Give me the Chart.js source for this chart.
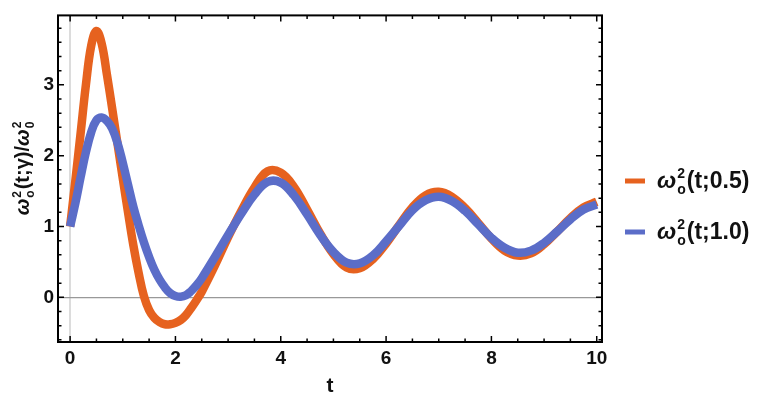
<!DOCTYPE html>
<html>
<head>
<meta charset="utf-8">
<script src="https://cdn.jsdelivr.net/npm/chart.js@4"></script>
<style>
html, body { margin: 0; padding: 0; background: #fff; }
</style>
</head>
<body>
<canvas id="plot" width="763" height="409"></canvas>
<script>
// time axis (shared by both curves)
const tValues = [0, 0.1, 0.2, 0.3, 0.4, 0.5, 0.6, 0.7, 0.8, 0.9, 1.0, 1.1, 1.2, 1.3, 1.4, 1.5, 1.6, 1.7, 1.8, 1.9, 2.0,
    2.1, 2.2, 2.3, 2.4, 2.5, 2.75, 3, 3.25, 3.5, 3.75, 4, 4.25, 4.5, 4.75, 5, 5.25, 5.5, 5.75, 6, 6.25, 6.5, 6.75,
    7, 7.25, 7.5, 7.75, 8, 8.25, 8.5, 8.75, 9, 9.25, 9.5, 9.75, 10];
// ω²(t;0.5)/ω0²
const gamma05 = [1.00, 1.65, 2.32, 3.00, 3.55, 3.76, 3.58, 3.14, 2.66, 2.17, 1.68, 1.20, 0.74, 0.35, 0.02, -0.18, -0.29,
    -0.35, -0.38, -0.38, -0.36, -0.32, -0.25, -0.15, -0.04, 0.08, 0.45, 0.85, 1.22, 1.55, 1.78, 1.76, 1.56, 1.24, 0.90,
    0.61, 0.42, 0.41, 0.54, 0.76, 1.02, 1.27, 1.44, 1.49, 1.42, 1.26, 1.05, 0.83, 0.66, 0.59, 0.62, 0.75, 0.93, 1.12,
    1.27, 1.35];
// ω²(t;1.0)/ω0²
const gamma10 = [1.00, 1.33, 1.70, 2.05, 2.33, 2.50, 2.54, 2.49, 2.38, 2.18, 1.90, 1.59, 1.28, 1.02, 0.78, 0.57, 0.39,
    0.25, 0.14, 0.06, 0.02, 0.01, 0.03, 0.09, 0.17, 0.27, 0.57, 0.88, 1.18, 1.45, 1.63, 1.62, 1.44, 1.17, 0.88, 0.64,
    0.49, 0.48, 0.59, 0.79, 1.01, 1.23, 1.37, 1.42, 1.36, 1.22, 1.03, 0.84, 0.70, 0.63, 0.66, 0.77, 0.93, 1.10, 1.24,
    1.31];

const seriesLabels = ['0.5', '1.0'];
const seriesColors = ['#E6621F', '#5B6DC8'];

// ticks
const xTicks = [0, 2, 4, 6, 8, 10];
const yTicks = [0, 1, 2, 3];
const xMinorTicks = [0, 0.5, 1, 1.5, 2, 2.5, 3, 3.5, 4, 4.5, 5, 5.5, 6, 6.5, 7, 7.5, 8, 8.5, 9, 9.5, 10];
const yMinorTicks = [-0.6, -0.4, -0.2, 0, 0.2, 0.4, 0.6, 0.8, 1, 1.2, 1.4, 1.6, 1.8, 2, 2.2, 2.4, 2.6, 2.8, 3, 3.2,
    3.4, 3.6, 3.8];

const FONT = '"Liberation Sans", Arial, sans-serif';

// text with stacked super/subscript (ω²ₒ)
function richText(ctx, parts, x, y, size, measureOnly) {
    let cx = x;
    parts.forEach(p => {
        ctx.font = (p.italic ? 'italic ' : '') + 'bold ' + size + 'px ' + FONT;
        if (!measureOnly) ctx.fillText(p.text, cx, y);
        cx += ctx.measureText(p.text).width;
        if (p.sup || p.sub) {
            const s = Math.round(size * 0.62);
            ctx.font = 'bold ' + s + 'px ' + FONT;
            let w = 0;
            if (p.sup) {
                if (!measureOnly) ctx.fillText(p.sup, cx + 1, y - size * 0.42);
                w = ctx.measureText(p.sup).width;
            }
            if (p.sub) {
                if (!measureOnly) ctx.fillText(p.sub, cx + 1, y + size * 0.24);
                w = Math.max(w, ctx.measureText(p.sub).width);
            }
            cx += w + 2;
        }
    });
    return cx - x;
}

const framePlugin = {
    id: 'frame',
    afterDraw(chart) {
        const { ctx, chartArea: a, scales: { x, y } } = chart;
        ctx.save();
        // inner ticks on all four sides
        ctx.strokeStyle = '#000';
        ctx.lineWidth = 1.5;
        ctx.beginPath();
        xMinorTicks.forEach(v => {
            const px = x.getPixelForValue(v);
            const len = xTicks.includes(v) ? 6 : 3.5;
            ctx.moveTo(px, a.bottom); ctx.lineTo(px, a.bottom - len);
            ctx.moveTo(px, a.top); ctx.lineTo(px, a.top + len);
        });
        yMinorTicks.forEach(v => {
            const py = y.getPixelForValue(v);
            const len = yTicks.includes(v) ? 6 : 3.5;
            ctx.moveTo(a.left, py); ctx.lineTo(a.left + len, py);
            ctx.moveTo(a.right, py); ctx.lineTo(a.right - len, py);
        });
        ctx.stroke();
        // frame
        ctx.lineWidth = 2;
        ctx.strokeRect(a.left, a.top, a.right - a.left, a.bottom - a.top);

        ctx.fillStyle = '#111';
        ctx.textBaseline = 'alphabetic';
        ctx.textAlign = 'left';

        // x title
        ctx.font = 'bold 21px ' + FONT;
        ctx.textAlign = 'center';
        ctx.fillText('t', (a.left + a.right) / 2, 392);
        ctx.textAlign = 'left';

        // y title (rotated)
        const yTitle = [
            { text: 'ω', italic: true, sup: '2', sub: 'o' },
            { text: '(t;γ)/' },
            { text: 'ω', italic: true, sup: '2', sub: '0' }
        ];
        const w = richText(ctx, yTitle, 0, 0, 20, true);
        ctx.save();
        ctx.translate(29, 168);
        ctx.rotate(-Math.PI / 2);
        richText(ctx, yTitle, -w / 2, 0, 20);
        ctx.restore();

        // legend
        const rows = [183, 234];
        seriesLabels.forEach((lab, i) => {
            ctx.strokeStyle = seriesColors[i];
            ctx.lineWidth = 5;
            ctx.beginPath();
            ctx.moveTo(625, rows[i] - 2);
            ctx.lineTo(645, rows[i] - 2);
            ctx.stroke();
            ctx.fillStyle = '#111';
            richText(ctx, [{ text: 'ω', italic: true, sup: '2', sub: 'o' }, { text: '(t;' + lab + ')' }], 657, rows[i] + 5, 23);
        });
        ctx.restore();
    }
};

new Chart(document.getElementById('plot'), {
    type: 'line',
    data: {
        datasets: [
            {
                label: 'ω²(t;' + seriesLabels[0] + ')',
                data: tValues.map((t, i) => ({ x: t, y: gamma05[i] })),
                borderColor: seriesColors[0],
                borderWidth: 8.5,
                pointRadius: 0,
                tension: 0.4,
                borderJoinStyle: 'round',
                fill: false,
                order: 2
            },
            {
                label: 'ω²(t;' + seriesLabels[1] + ')',
                data: tValues.map((t, i) => ({ x: t, y: gamma10[i] })),
                borderColor: seriesColors[1],
                borderWidth: 8.5,
                pointRadius: 0,
                tension: 0.4,
                borderJoinStyle: 'round',
                fill: false,
                order: 1
            }
        ]
    },
    options: {
        responsive: false,
        animation: false,
        layout: { padding: { top: 4, right: 161, left: 0, bottom: 0 } },
        plugins: {
            legend: { display: false },
            tooltip: { enabled: false }
        },
        scales: {
            x: {
                type: 'linear',
                min: -0.23,
                max: 10.1,
                afterBuildTicks: s => { s.ticks = xTicks.map(v => ({ value: v })); },
                afterFit: s => { s.height = 67; },
                border: { display: false },
                grid: {
                    drawTicks: false,
                    lineWidth: 2,
                    color: c => (c.tick && c.tick.value === 0 ? '#dcdcdc' : 'rgba(0,0,0,0)')
                },
                ticks: {
                    padding: 5,
                    autoSkip: false,
                    maxRotation: 0,
                    color: '#111',
                    font: { family: FONT, weight: 'bold', size: 19 }
                }
            },
            y: {
                min: -0.63,
                max: 3.98,
                afterBuildTicks: s => { s.ticks = yTicks.map(v => ({ value: v })); },
                afterFit: s => { s.width = 58; },
                border: { display: false },
                grid: {
                    drawTicks: false,
                    lineWidth: 1.2,
                    color: c => (c.tick && c.tick.value === 0 ? '#999' : 'rgba(0,0,0,0)')
                },
                ticks: {
                    padding: 4,
                    color: '#111',
                    font: { family: FONT, weight: 'bold', size: 19 }
                }
            }
        }
    },
    plugins: [framePlugin]
});
</script>
</body>
</html>
